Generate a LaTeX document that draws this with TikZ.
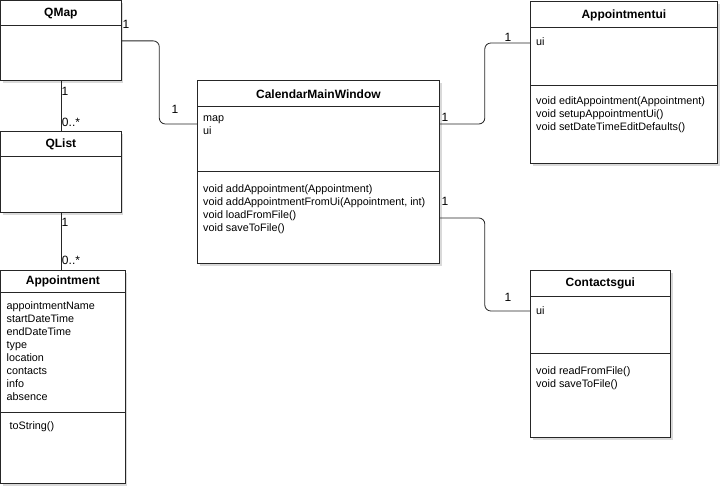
\documentclass[tikz,border=0pt]{standalone}
\usepackage{fontspec}
\setmainfont{Liberation Sans}
\usetikzlibrary{calc,shadows}

\tikzset{
  classbox/.style={draw=black!85,line width=0.8pt,fill=white,anchor=north west,inner sep=0,
    drop shadow={shadow xshift=2.5pt,shadow yshift=-2.5pt,opacity=0.3}},
  classname/.style={font=\fontsize{12}{14}\selectfont\bfseries,inner sep=0},
  members/.style={anchor=north west,align=left,inner sep=0,font=\fontsize{10.8}{13}\selectfont,
    execute at begin node=\strut},
  mult/.style={font=\fontsize{12}{13}\selectfont,inner sep=0},
  assoc/.style={line width=0.8pt,black!85,rounded corners=6pt},
  divider/.style={line width=0.8pt,black!85}
}

\begin{document}
\begin{tikzpicture}[x=1pt,y=-1pt]
	\useasboundingbox (0,0) rectangle (724,489);

	% classes
	\node[classbox,minimum width=120pt,minimum height=80pt] (qmap) at (0.5,0.5) {};
	\node[classbox,minimum width=120pt,minimum height=81pt] (qlist) at (0.5,131) {};
	\node[classbox,minimum width=124pt,minimum height=213pt] (appt) at (0.5,270) {};
	\node[classbox,minimum width=242pt,minimum height=183pt] (cmw) at (197,80) {};
	\node[classbox,minimum width=187pt,minimum height=162pt] (apui) at (530,1) {};
	\node[classbox,minimum width=140pt,minimum height=167pt] (cgui) at (530,270) {};

	% dividers
	\draw[divider] ($(qmap.north west)+(0,25)$) -- ($(qmap.north east)+(0,25)$); % qmap header
	\draw[divider] ($(qlist.north west)+(0,25)$) -- ($(qlist.north east)+(0,25)$); % qlist header
	\draw[divider] ($(appt.north west)+(0,22)$) -- ($(appt.north east)+(0,22)$); % appointment header
	\draw[divider] ($(appt.north west)+(0,142)$) -- ($(appt.north east)+(0,142)$); % appointment methods
	\draw[divider] ($(cmw.north west)+(0,26)$) -- ($(cmw.north east)+(0,26)$); % main window header
	\draw[divider] ($(cmw.north west)+(0,91)$) -- ($(cmw.north east)+(0,91)$); % main window methods
	\draw[divider] ($(apui.north west)+(0,26)$) -- ($(apui.north east)+(0,26)$); % appointmentui header
	\draw[divider] ($(apui.north west)+(0,84)$) -- ($(apui.north east)+(0,84)$); % appointmentui methods
	\draw[divider] ($(cgui.north west)+(0,26)$) -- ($(cgui.north east)+(0,26)$); % contactsgui header
	\draw[divider] ($(cgui.north west)+(0,83)$) -- ($(cgui.north east)+(0,83)$); % contactsgui methods

	% class names
	\node[classname] (qmapT) at ($(qmap.north)+(0,13)$) {QMap};
	\node[classname] (qlistT) at ($(qlist.north)+(0,13)$) {QList};
	\node[classname] (apptT) at ($(appt.north)+(0,11)$) {Appointment};
	\node[classname] (cmwT) at ($(cmw.north)+(0,14)$) {CalendarMainWindow};
	\node[classname] (apuiT) at ($(apui.north)+(0,14)$) {Appointmentui};
	\node[classname] (cguiT) at ($(cgui.north)+(0,13)$) {Contactsgui};

	% members
	\node[members] (apptA) at ($(appt.north west)+(6,31)$) {appointmentName\\startDateTime\\endDateTime\\type\\location\\contacts\\info\\absence};
	\node[members] (apptM) at ($(appt.north west)+(9,150)$) {toString()};
	\node[members] (cmwA) at ($(cmw.north west)+(6,35)$) {map\\ui};
	\node[members] (cmwM) at ($(cmw.north west)+(6,104)$) {void addAppointment(Appointment)\\void addAppointmentFromUi(Appointment, int)\\void loadFromFile()\\void saveToFile()};
	\node[members] (apuiA) at ($(apui.north west)+(6,35)$) {ui};
	\node[members] (apuiM) at ($(apui.north west)+(6,95)$) {void editAppointment(Appointment)\\void setupAppointmentUi()\\void setDateTimeEditDefaults()};
	\node[members] (cguiA) at ($(cgui.north west)+(6,35)$) {ui};
	\node[members] (cguiM) at ($(cgui.north west)+(6,96)$) {void readFromFile()\\void saveToFile()};

	% links
	\coordinate (cmwL) at ($(cmw.north west)+(0,44)$);
	\coordinate (cmwR1) at ($(cmw.north east)+(0,44)$);
	\coordinate (cmwR2) at ($(cmw.north east)+(0,138)$);
	\coordinate (apuiL) at ($(apui.north west)+(0,42)$);
	\coordinate (cguiL) at ($(cgui.north west)+(0,41)$);
	\draw[assoc] (qmap.east) -- ++(38,0) |- (cmwL); % qmap to main window
	\draw[assoc] (qmap.south) -- (qlist.north); % qmap to qlist
	\draw[assoc] (qlist.south) -- (qlist.south |- appt.north); % qlist to appointment
	\draw[assoc] (cmwR1) -- ++(45,0) |- (apuiL); % main window to appointmentui
	\draw[assoc] (cmwR2) -- ++(45,0) |- (cguiL); % main window to contactsgui

	% multiplicities
	\node[mult] (qmapM1) at (126,24) {1};
	\node[mult] (cmwM1) at (175,109) {1};
	\node[mult] (qmapM2) at (65,91) {1};
	\node[mult] (qlistM1) at (71,122) {0..*};
	\node[mult] (qlistM2) at (65,222) {1};
	\node[mult] (apptM1) at (71,260) {0..*};
	\node[mult] (cmwM2) at (445,117) {1};
	\node[mult] (apuiM1) at (508,37) {1};
	\node[mult] (cmwM3) at (445,201) {1};
	\node[mult] (cguiM1) at (508,297) {1};

\end{tikzpicture}
\end{document}
